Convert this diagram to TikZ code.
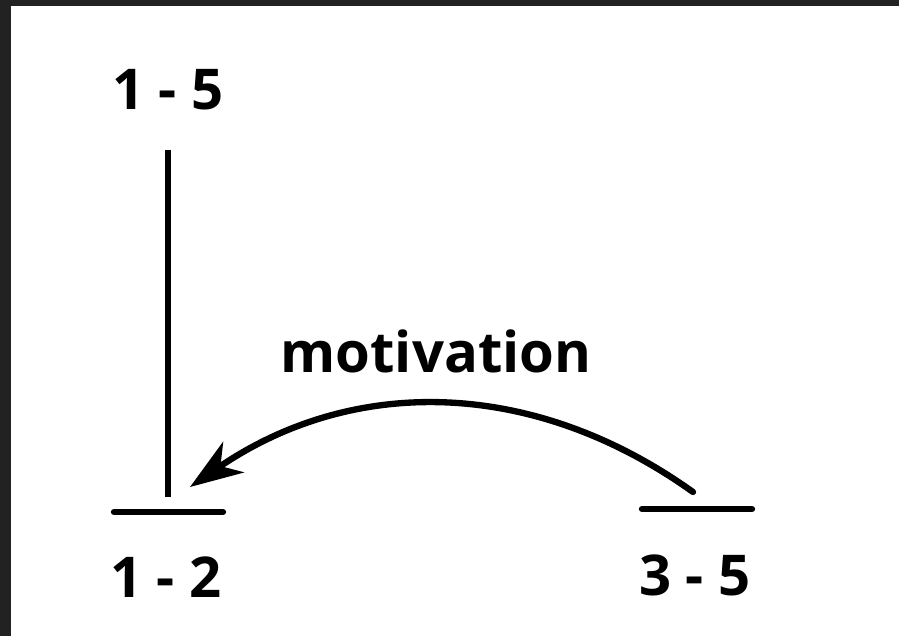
\documentclass[tikz,border=0pt]{standalone}
\usepackage{fontspec}
\setmainfont{Open Sans}
\usetikzlibrary{arrows.meta, positioning}
\definecolor{bandgray}{HTML}{222222}

\begin{document}
\begin{tikzpicture}[x=0.02cm, y=0.02cm,
    every node/.style={font=\bfseries\fontsize{32}{38}\selectfont, inner sep=0pt, anchor=base},
    stroke/.style={line width=3.6pt}]
    % background and dark frame bands
    \fill[white] (0,0) rectangle (899,636);
    \fill[bandgray] (0,0) rectangle (11,636);
    \fill[bandgray] (0,630) rectangle (899,636);
    \useasboundingbox (0,0) rectangle (899,636);

    \node (L15) at (168,526) {1 - 5};
    \node (L12) at (166,39) {1 - 2};
    \node (L35) at (695,41) {3 - 5};
    \node (mot) at (436,263) {motivation};

    \coordinate (top) at (168,486);
    \coordinate (foot) at (168,139);
    \coordinate (a12) at (114,124);
    \coordinate (b12) at (223,124);
    \coordinate (a35) at (642,127);
    \coordinate (b35) at (752,127);
    \coordinate (start) at (693,144);
    \coordinate (end) at (190,149);

    \draw[stroke] (top) -- (foot);
    \draw[stroke, line cap=round] (a12) -- (b12);
    \draw[stroke, line cap=round] (a35) -- (b35);
    \path[-{Stealth[length=30pt, width=21pt, inset=9pt]}, stroke, line cap=round]
        (start) edge [bend right=35] (end);
\end{tikzpicture}
\end{document}
